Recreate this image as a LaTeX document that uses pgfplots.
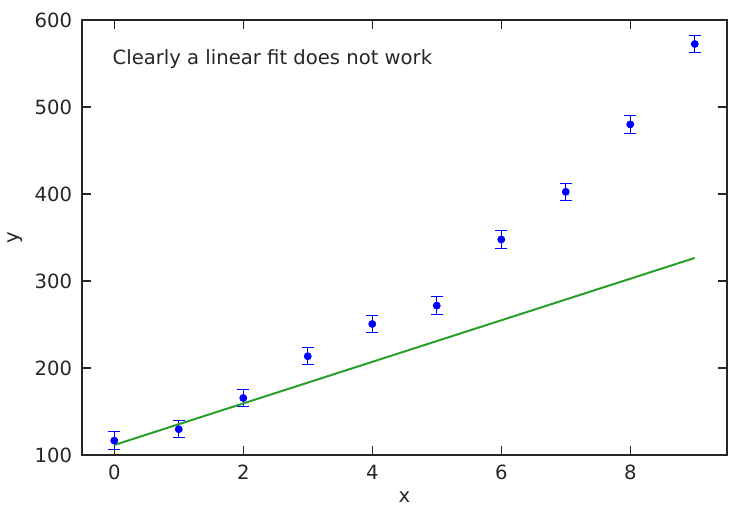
\documentclass[border=0pt]{standalone}
\usepackage{fontspec}
\setmainfont{DejaVu Sans}
\usepackage{pgfplots}
\pgfplotsset{compat=1.18}
\definecolor{mplblue}{rgb}{0,0,1}
\definecolor{mplgreen}{rgb}{0.16,0.62,0.16}
\newcommand{\chartfont}{\fontsize{9.8}{12}\selectfont}
\begin{document}
\chartfont
\begin{tikzpicture}
\begin{axis}[
  scale only axis,
  width=322.5pt, height=217.5pt,
  xmin=-0.5, xmax=9.5,
  ymin=100, ymax=600,
  xtick={0,2,4,6,8},
  ytick={100,200,300,400,500,600},
  tick align=inside,
  major tick length=4.5pt,
  axis line style={line width=0.8pt, black!85},
  every tick/.style={line width=0.6pt, black!85},
  tick label style={font=\chartfont, text=black!85},
  /pgf/number format/assume math mode=true,
  xlabel={x}, ylabel={y},
  label style={font=\chartfont, text=black!85},
  xlabel style={at={(axis description cs:0.5,0)}, anchor=north, yshift=-17pt, inner sep=1pt},
  ylabel style={at={(axis description cs:0,0.5)}, anchor=south, yshift=26pt},
  xticklabel style={yshift=-1.5pt},
  yticklabel style={xshift=-1.5pt},
  clip=false,
]
% measured data with symmetric uncertainties
\addplot[
  only marks, mark=*, mark size=1.75pt,
  color=mplblue, mark options={fill=mplblue, draw=mplblue},
  error bars/.cd, y dir=both, y explicit,
  error mark options={rotate=90, mark size=3pt, line width=0.5pt, mplblue},
  error bar style={line width=0.5pt, mplblue},
] coordinates {
  (0,116.5) +- (0,10)
  (1,129.6) +- (0,10)
  (2,165.5) +- (0,10)
  (3,213.5) +- (0,10)
  (4,250.6) +- (0,10)
  (5,271.7) +- (0,10)
  (6,347.7) +- (0,10)
  (7,402.5) +- (0,10)
  (8,480.0) +- (0,10)
  (9,572.4) +- (0,10)
};
% straight-line model
\addplot[mplgreen, line width=1pt] coordinates {(0,111.5) (9,326.5)};
\node[anchor=west, font=\chartfont, text=black!85, inner sep=0pt] at (rel axis cs:0.047,0.91) {Clearly a linear fit does not work};
\coordinate (bbsw) at (rel axis cs:0,0);
\coordinate (bbne) at (rel axis cs:1,1);
\end{axis}
\pgfresetboundingbox
\path (bbsw) ++(-41pt,-28pt) coordinate (b1);
\path (bbne) ++(1pt,10pt) coordinate (b2);
\path (b1) rectangle (b2);
\end{tikzpicture}
\end{document}
